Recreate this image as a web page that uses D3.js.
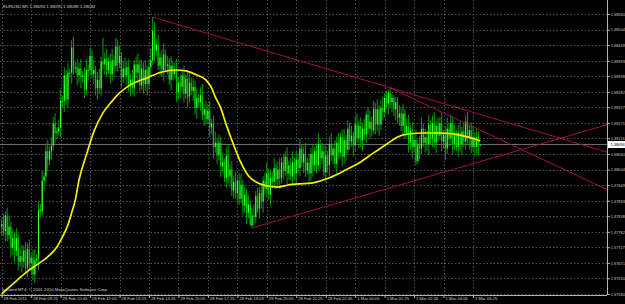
<!DOCTYPE html>
<html>
<head>
<meta charset="utf-8">
<style>
  body { margin: 0; background: #000; }
  svg { display: block; }
  .axis text { font-family: "Liberation Sans", Arial, sans-serif; fill: #c8c8c8; }
  .axis path, .axis line { stroke: #b4b4b4; }
  .note { font-family: "Liberation Sans", Arial, sans-serif; fill: #d0d0d0; }
</style>
</head>
<body>
<script src="https://cdn.jsdelivr.net/npm/d3@7/dist/d3.min.js"></script>
<script>
// EURUSD M5, 28 Feb 2011 08:05 .. 1 Mar 2011 05:45, one entry per bar
var barOpen = [
1.37800,1.37809,1.37785,1.37840,1.37770,1.37800,1.37725,1.37760,1.37715,1.37760,
1.37675,1.37695,1.37675,1.37715,1.37655,1.37720,1.37670,1.37690,1.37630,1.37680,
1.37685,1.37860,1.37855,1.37965,1.37980,1.38070,1.38040,1.38070,1.38090,1.38170,
1.38135,1.38140,1.38155,1.38250,1.38250,1.38340,1.38255,1.38350,1.38350,1.38440,
1.38365,1.38370,1.38340,1.38365,1.38335,1.38340,1.38290,1.38360,1.38360,1.38410,
1.38345,1.38360,1.38295,1.38325,1.38295,1.38390,1.38380,1.38400,1.38360,1.38390,
1.38345,1.38395,1.38375,1.38445,1.38385,1.38410,1.38335,1.38365,1.38340,1.38370,
1.38305,1.38325,1.38295,1.38380,1.38350,1.38380,1.38305,1.38365,1.38310,1.38360,
1.38310,1.38370,1.38395,1.38500,1.38430,1.38450,1.38375,1.38405,1.38360,1.38415,
1.38375,1.38380,1.38325,1.38375,1.38345,1.38360,1.38280,1.38315,1.38300,1.38340,
1.38275,1.38330,1.38265,1.38315,1.38285,1.38300,1.38225,1.38260,1.38245,1.38270,
1.38200,1.38220,1.38185,1.38215,1.38155,1.38170,1.38085,1.38100,1.38055,1.38100,
1.38015,1.38030,1.37975,1.38055,1.37980,1.38005,1.37930,1.37960,1.37920,1.37965,
1.37900,1.37950,1.37875,1.37915,1.37850,1.37880,1.37805,1.37840,1.37835,1.37910,
1.37865,1.37920,1.37890,1.37965,1.37935,1.37990,1.37915,1.37975,1.37960,1.38010,
1.37970,1.38005,1.37975,1.38030,1.38000,1.38050,1.37990,1.38020,1.37980,1.38030,
1.37990,1.38040,1.38010,1.38080,1.38030,1.38060,1.38000,1.38030,1.37990,1.38060,
1.38020,1.38070,1.38020,1.38095,1.38045,1.38070,1.37995,1.38055,1.38020,1.38095,
1.38055,1.38080,1.38025,1.38100,1.38065,1.38120,1.38050,1.38110,1.38075,1.38150,
1.38105,1.38125,1.38090,1.38165,1.38115,1.38160,1.38110,1.38150,1.38130,1.38200,
1.38150,1.38175,1.38145,1.38220,1.38165,1.38220,1.38165,1.38225,1.38210,1.38260,
1.38240,1.38280,1.38245,1.38260,1.38220,1.38245,1.38190,1.38205,1.38160,1.38205,
1.38135,1.38160,1.38100,1.38145,1.38085,1.38110,1.38035,1.38095,1.38080,1.38150,
1.38100,1.38120,1.38095,1.38165,1.38115,1.38170,1.38100,1.38160,1.38125,1.38170,
1.38105,1.38130,1.38080,1.38150,1.38115,1.38170,1.38095,1.38130,1.38085,1.38135,
1.38095,1.38140,1.38105,1.38175,1.38115,1.38145,1.38085,1.38120,1.38085,1.38120,
1.38094];
var barHigh = [
1.37831,1.37844,1.37855,1.37868,1.37840,1.37818,1.37790,1.37782,1.37795,1.37775,
1.37723,1.37735,1.37733,1.37745,1.37742,1.37755,1.37705,1.37718,1.37720,1.37703,
1.37890,1.37882,1.38000,1.37995,1.38098,1.38110,1.38088,1.38120,1.38192,1.38205,
1.38155,1.38183,1.38290,1.38268,1.38370,1.38362,1.38385,1.38365,1.38468,1.38480,
1.38388,1.38400,1.38387,1.38400,1.38355,1.38368,1.38400,1.38378,1.38440,1.38432,
1.38395,1.38375,1.38353,1.38365,1.38408,1.38475,1.38422,1.38435,1.38405,1.38418,
1.38435,1.38413,1.38475,1.38467,1.38445,1.38425,1.38393,1.38405,1.38388,1.38400,
1.38347,1.38360,1.38395,1.38408,1.38420,1.38398,1.38395,1.38387,1.38395,1.38375,
1.38398,1.38435,1.38549,1.38530,1.38472,1.38485,1.38420,1.38433,1.38455,1.38433,
1.38410,1.38402,1.38410,1.38390,1.38388,1.38400,1.38333,1.38345,1.38362,1.38375,
1.38345,1.38358,1.38355,1.38333,1.38330,1.38322,1.38295,1.38275,1.38298,1.38310,
1.38238,1.38250,1.38237,1.38250,1.38185,1.38198,1.38140,1.38118,1.38130,1.38122,
1.38065,1.38045,1.38083,1.38095,1.38023,1.38035,1.37982,1.37995,1.37980,1.37993,
1.37990,1.37968,1.37945,1.37937,1.37915,1.37895,1.37868,1.37880,1.37928,1.37940,
1.37942,1.37955,1.37980,1.37993,1.38030,1.38008,1.38005,1.37997,1.38045,1.38025,
1.38033,1.38045,1.38048,1.38060,1.38072,1.38085,1.38035,1.38048,1.38070,1.38048,
1.38070,1.38062,1.38115,1.38095,1.38088,1.38100,1.38048,1.38060,1.38082,1.38095,
1.38085,1.38098,1.38135,1.38113,1.38100,1.38092,1.38090,1.38070,1.38123,1.38135,
1.38098,1.38110,1.38122,1.38135,1.38135,1.38148,1.38150,1.38128,1.38180,1.38172,
1.38160,1.38140,1.38193,1.38205,1.38178,1.38190,1.38172,1.38185,1.38215,1.38228,
1.38215,1.38193,1.38250,1.38242,1.38255,1.38235,1.38253,1.38265,1.38278,1.38285,
1.38290,1.38296,1.38275,1.38270,1.38265,1.38263,1.38235,1.38227,1.38240,1.38220,
1.38188,1.38200,1.38163,1.38175,1.38132,1.38145,1.38110,1.38123,1.38190,1.38168,
1.38150,1.38142,1.38200,1.38180,1.38198,1.38210,1.38178,1.38190,1.38192,1.38205,
1.38145,1.38158,1.38190,1.38168,1.38200,1.38192,1.38165,1.38145,1.38163,1.38175,
1.38158,1.38170,1.38197,1.38210,1.38160,1.38173,1.38160,1.38138,1.38150,1.38142,
1.38095];
var barLow = [
1.37770,1.37767,1.37747,1.37748,1.37755,1.37690,1.37700,1.37675,1.37695,1.37645,
1.37657,1.37637,1.37653,1.37640,1.37620,1.37645,1.37630,1.37610,1.37600,1.37662,
1.37647,1.37833,1.37840,1.37930,1.37955,1.38000,1.38020,1.38040,1.38072,1.38097,
1.38113,1.38125,1.38120,1.38225,1.38210,1.38235,1.38225,1.38332,1.38312,1.38343,
1.38350,1.38305,1.38315,1.38295,1.38315,1.38260,1.38272,1.38322,1.38338,1.38330,
1.38310,1.38270,1.38255,1.38275,1.38265,1.38362,1.38342,1.38338,1.38345,1.38310,
1.38320,1.38335,1.38355,1.38355,1.38367,1.38297,1.38313,1.38325,1.38305,1.38280,
1.38265,1.38275,1.38265,1.38332,1.38312,1.38283,1.38290,1.38275,1.38285,1.38270,
1.38290,1.38340,1.38377,1.38392,1.38408,1.38360,1.38340,1.38335,1.38320,1.38355,
1.38345,1.38307,1.38287,1.38323,1.38330,1.38245,1.38255,1.38260,1.38280,1.38245,
1.38257,1.38227,1.38243,1.38270,1.38250,1.38200,1.38185,1.38225,1.38215,1.38182,
1.38162,1.38163,1.38170,1.38120,1.38130,1.38045,1.38065,1.38025,1.38037,1.37977,
1.37993,1.37960,1.37940,1.37955,1.37940,1.37910,1.37900,1.37902,1.37882,1.37878,
1.37885,1.37840,1.37850,1.37810,1.37830,1.37810,1.37796,1.37805,1.37813,1.37850,
1.37830,1.37865,1.37850,1.37915,1.37905,1.37897,1.37877,1.37938,1.37945,1.37935,
1.37945,1.37935,1.37955,1.37970,1.37982,1.37952,1.37968,1.37965,1.37945,1.37965,
1.37950,1.37990,1.37980,1.38012,1.37992,1.37978,1.37985,1.37955,1.37965,1.37980,
1.38000,1.37990,1.38002,1.38007,1.38023,1.37980,1.37960,1.37995,1.37980,1.38035,
1.38025,1.38007,1.37987,1.38043,1.38050,1.38015,1.38025,1.38035,1.38055,1.38075,
1.38087,1.38052,1.38068,1.38100,1.38080,1.38085,1.38070,1.38110,1.38100,1.38132,
1.38112,1.38123,1.38130,1.38130,1.38140,1.38125,1.38145,1.38180,1.38190,1.38222,
1.38202,1.38223,1.38210,1.38195,1.38180,1.38170,1.38160,1.38142,1.38122,1.38113,
1.38120,1.38065,1.38075,1.38045,1.38065,1.38021,1.38025,1.38042,1.38058,1.38085,
1.38065,1.38070,1.38055,1.38095,1.38085,1.38082,1.38062,1.38103,1.38110,1.38070,
1.38080,1.38040,1.38060,1.38085,1.38097,1.38057,1.38073,1.38070,1.38050,1.38070,
1.38055,1.38085,1.38075,1.38097,1.38077,1.38063,1.38070,1.38050,1.38060,1.38054,
1.38088];
var barClose = [
1.37809,1.37785,1.37840,1.37770,1.37800,1.37725,1.37760,1.37715,1.37760,1.37675,
1.37695,1.37675,1.37715,1.37655,1.37720,1.37670,1.37690,1.37630,1.37680,1.37685,
1.37860,1.37855,1.37965,1.37980,1.38070,1.38040,1.38070,1.38090,1.38170,1.38135,
1.38140,1.38155,1.38250,1.38250,1.38340,1.38255,1.38350,1.38350,1.38440,1.38365,
1.38370,1.38340,1.38365,1.38335,1.38340,1.38290,1.38360,1.38360,1.38410,1.38345,
1.38360,1.38295,1.38325,1.38295,1.38390,1.38380,1.38400,1.38360,1.38390,1.38345,
1.38395,1.38375,1.38445,1.38385,1.38410,1.38335,1.38365,1.38340,1.38370,1.38305,
1.38325,1.38295,1.38380,1.38350,1.38380,1.38305,1.38365,1.38310,1.38360,1.38310,
1.38370,1.38395,1.38500,1.38430,1.38450,1.38375,1.38405,1.38360,1.38415,1.38375,
1.38380,1.38325,1.38375,1.38345,1.38360,1.38280,1.38315,1.38300,1.38340,1.38275,
1.38330,1.38265,1.38315,1.38285,1.38300,1.38225,1.38260,1.38245,1.38270,1.38200,
1.38220,1.38185,1.38215,1.38155,1.38170,1.38085,1.38100,1.38055,1.38100,1.38015,
1.38030,1.37975,1.38055,1.37980,1.38005,1.37930,1.37960,1.37920,1.37965,1.37900,
1.37950,1.37875,1.37915,1.37850,1.37880,1.37805,1.37840,1.37835,1.37910,1.37865,
1.37920,1.37890,1.37965,1.37935,1.37990,1.37915,1.37975,1.37960,1.38010,1.37970,
1.38005,1.37975,1.38030,1.38000,1.38050,1.37990,1.38020,1.37980,1.38030,1.37990,
1.38040,1.38010,1.38080,1.38030,1.38060,1.38000,1.38030,1.37990,1.38060,1.38020,
1.38070,1.38020,1.38095,1.38045,1.38070,1.37995,1.38055,1.38020,1.38095,1.38055,
1.38080,1.38025,1.38100,1.38065,1.38120,1.38050,1.38110,1.38075,1.38150,1.38105,
1.38125,1.38090,1.38165,1.38115,1.38160,1.38110,1.38150,1.38130,1.38200,1.38150,
1.38175,1.38145,1.38220,1.38165,1.38220,1.38165,1.38225,1.38210,1.38260,1.38240,
1.38280,1.38245,1.38260,1.38220,1.38245,1.38190,1.38205,1.38160,1.38205,1.38135,
1.38160,1.38100,1.38145,1.38085,1.38110,1.38035,1.38095,1.38080,1.38150,1.38100,
1.38120,1.38095,1.38165,1.38115,1.38170,1.38100,1.38160,1.38125,1.38170,1.38105,
1.38130,1.38080,1.38150,1.38115,1.38170,1.38095,1.38130,1.38085,1.38135,1.38095,
1.38140,1.38105,1.38175,1.38115,1.38145,1.38085,1.38120,1.38085,1.38120,1.38094,
1.38094];

// yellow moving average (bar index, price)
var maBar   = [0, 3, 8, 15, 19, 25, 30, 33, 36, 38, 40, 42, 46, 50, 55, 60, 64, 68, 73, 79,
               87, 95, 100, 106, 111, 114, 116, 119, 122, 126, 130, 134, 139, 144, 150, 156,
               161, 169, 178, 186, 194, 202, 210, 215, 221, 229, 237, 245, 253, 260];
var maPrice = [1.37560, 1.37578, 1.37607, 1.37646, 1.37664, 1.37693, 1.37728, 1.37764, 1.37807, 1.37850,
               1.37896, 1.37967, 1.38057, 1.38139, 1.38207, 1.38249, 1.38278, 1.38299, 1.38317, 1.38332,
               1.38353, 1.38360, 1.38357, 1.38342, 1.38324, 1.38296, 1.38264, 1.38224, 1.38164, 1.38092,
               1.38028, 1.37982, 1.37957, 1.37946, 1.37942, 1.37950, 1.37953, 1.37957, 1.37975, 1.38000,
               1.38028, 1.38064, 1.38099, 1.38121, 1.38132, 1.38135, 1.38135, 1.38132, 1.38121, 1.38107];

// trend lines (rays to the right)
var trendFromBar   = [82, 136, 211];
var trendFromPrice = [1.38549, 1.37796, 1.38296];
var trendToBar     = [260, 260, 260];
var trendToPrice   = [1.38201, 1.38033, 1.38145];

var priceTicks = [1.38560, 1.38504, 1.38449, 1.38393, 1.38338, 1.38282, 1.38227, 1.38171, 1.38116, 1.38060,
                  1.38004, 1.37949, 1.37893, 1.37838, 1.37782, 1.37727, 1.37671, 1.37616, 1.37560];
var timeTickBars = [0, 16, 32, 48, 64, 80, 96, 112, 128, 144, 160, 176, 192, 208, 224, 240, 256];
var timeLabels = ["28 Feb 2011", "28 Feb 09:25", "28 Feb 10:45", "28 Feb 12:05", "28 Feb 13:25",
                  "28 Feb 14:45", "28 Feb 16:05", "28 Feb 17:25", "28 Feb 18:45", "28 Feb 20:05",
                  "28 Feb 21:25", "28 Feb 22:45", "1 Mar 00:05", "1 Mar 01:25", "1 Mar 02:45",
                  "1 Mar 04:05", "1 Mar 05:25"];
var bidPrice = 1.38094;

var W = 625, H = 304;
var plotRight = 607, plotBottom = 295;

var x = d3.scaleLinear().domain([0, 256]).range([1.7, 473]);
var y = d3.scaleLinear().domain([1.37560, 1.38560]).range([294, 14]);

var svg = d3.select("body").append("svg")
    .attr("width", W)
    .attr("height", H)
    .style("background", "#000");

svg.append("defs").append("clipPath").attr("id", "plot")
  .append("rect").attr("x", 0).attr("y", 0).attr("width", plotRight).attr("height", plotBottom);

// grid
svg.append("g").selectAll("line")
    .data(priceTicks)
  .enter().append("line")
    .attr("x1", 0).attr("x2", plotRight)
    .attr("y1", function(d) { return Math.round(y(d)) + 0.5; })
    .attr("y2", function(d) { return Math.round(y(d)) + 0.5; })
    .attr("stroke", "#4a525c")
    .attr("stroke-dasharray", "1.5,2");

svg.append("g").selectAll("line")
    .data(timeTickBars)
  .enter().append("line")
    .attr("x1", function(d) { return Math.round(x(d)) + 0.5; })
    .attr("x2", function(d) { return Math.round(x(d)) + 0.5; })
    .attr("y1", 0).attr("y2", plotBottom)
    .attr("stroke", "#4a525c")
    .attr("stroke-dasharray", "1.5,2");

var plot = svg.append("g").attr("clip-path", "url(#plot)");

// bid line
plot.append("line")
    .attr("x1", 0).attr("x2", plotRight)
    .attr("y1", y(bidPrice)).attr("y2", y(bidPrice))
    .attr("stroke", "#8c8c8c")
    .attr("stroke-width", 0.8);

// bars
var bars = plot.append("g");
bars.selectAll(".wick")
    .data(barHigh)
  .enter().append("line")
    .attr("class", "wick")
    .attr("x1", function(d, i) { return x(i); })
    .attr("x2", function(d, i) { return x(i); })
    .attr("y1", function(d) { return y(d); })
    .attr("y2", function(d, i) { return y(barLow[i]); })
    .attr("stroke", "#00a000")
    .attr("stroke-width", 1);

bars.selectAll(".body")
    .data(barOpen)
  .enter().append("line")
    .attr("class", "body")
    .attr("x1", function(d, i) { return x(i); })
    .attr("x2", function(d, i) { return x(i); })
    .attr("y1", function(d) { return y(d); })
    .attr("y2", function(d, i) {
      var c = barClose[i];
      return Math.abs(y(c) - y(d)) < 1 ? y(d) + 1 : y(c);
    })
    .attr("stroke", function(d, i) { return barClose[i] >= d ? "#3cff3c" : "#00c800"; })
    .attr("stroke-width", 1.2);

// moving average
var ma = d3.line()
    .x(function(d, i) { return x(maBar[i]); })
    .y(function(d) { return y(d); })
    .curve(d3.curveMonotoneX);

plot.append("path")
    .datum(maPrice)
    .attr("d", ma)
    .attr("fill", "none")
    .attr("stroke", "#f2f200")
    .attr("stroke-width", 1.7);

// trend lines, extended to the right edge
trendFromBar.forEach(function(b, k) {
  var x1 = x(b), y1 = y(trendFromPrice[k]);
  var x2 = x(trendToBar[k]), y2 = y(trendToPrice[k]);
  var slope = (y2 - y1) / (x2 - x1);
  plot.append("line")
      .attr("x1", x1).attr("y1", y1)
      .attr("x2", plotRight).attr("y2", y1 + slope * (plotRight - x1))
      .attr("stroke", "#b0124e")
      .attr("stroke-width", 0.9);
});

// price axis
svg.append("g")
    .attr("class", "axis")
    .attr("transform", "translate(" + plotRight + ",0)")
    .call(d3.axisRight(y)
          .tickValues(priceTicks)
          .tickSize(3)
          .tickPadding(0.8)
          .tickFormat(d3.format(".5f")))
    .call(function(g) { g.select(".domain").attr("d", "M0.5,0V" + plotBottom); })
    .selectAll("text").style("font-size", "3.9px");

// time axis
var tAxis = svg.append("g")
    .attr("class", "axis")
    .attr("transform", "translate(0," + plotBottom + ")")
    .call(d3.axisBottom(x)
          .tickValues(timeTickBars)
          .tickSize(3)
          .tickFormat(function(d, i) { return timeLabels[i]; }))
    .call(function(g) { g.select(".domain").attr("d", "M0,0.5H" + plotRight); });
tAxis.selectAll("text")
    .style("font-size", "4.2px")
    .attr("text-anchor", "start")
    .attr("dx", 1.5)
    .attr("y", 2.5);

// bid marker on the price axis
svg.append("rect")
    .attr("x", plotRight + 1).attr("y", y(bidPrice) - 3.5)
    .attr("width", W - plotRight).attr("height", 7)
    .attr("fill", "#ffffff");
svg.append("text")
    .attr("class", "note")
    .attr("x", plotRight + 3.5).attr("y", y(bidPrice) + 1.5)
    .style("fill", "#000")
    .style("font-size", "3.9px")
    .text(bidPrice.toFixed(5));

// header and footer text
svg.append("text")
    .attr("class", "note")
    .attr("x", 3).attr("y", 8)
    .style("font-size", "4.3px")
    .text("EURUSD,M5  1.38094 1.38095 1.38088 1.38094");

svg.append("text")
    .attr("class", "note")
    .attr("x", 2).attr("y", 291)
    .style("font-size", "4.3px")
    .text("Ironbird MT4, \u00a9 2001-2010 MetaQuotes Software Corp.");
</script>
</body>
</html>
